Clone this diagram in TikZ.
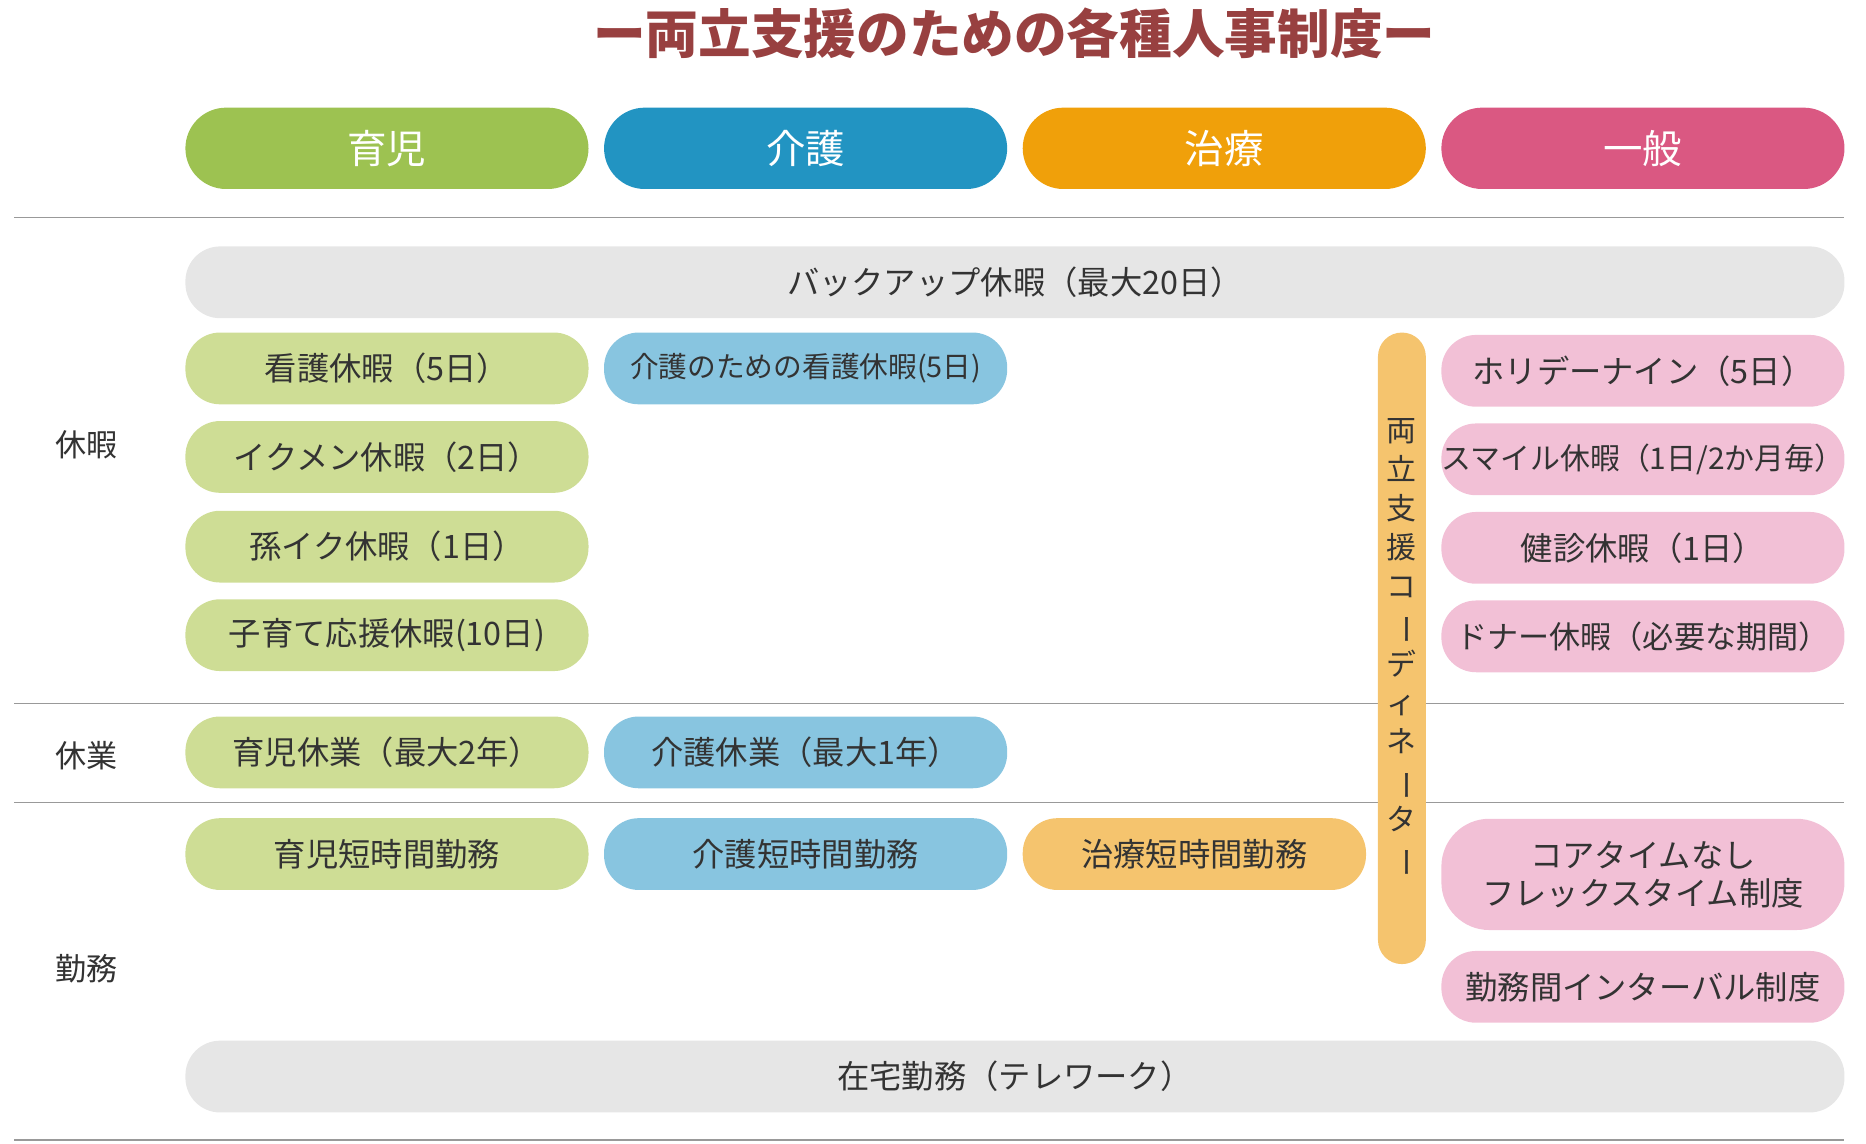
\documentclass[tikz,border=0pt]{standalone}
\usepackage{fontspec}
\setmainfont{Noto Sans CJK JP}
\definecolor{gA}{HTML}{9DC251}\definecolor{bA}{HTML}{2294C2}
\definecolor{oA}{HTML}{F0A00A}\definecolor{pA}{HTML}{DA5882}
\definecolor{gB}{HTML}{CEDD95}\definecolor{bB}{HTML}{88C5E0}
\definecolor{oB}{HTML}{F5C46E}\definecolor{pB}{HTML}{F2C0D6}
\definecolor{grB}{HTML}{E6E6E6}\definecolor{tt}{HTML}{984040}
\definecolor{tx}{HTML}{333333}
\tikzset{pill/.style={rounded corners=29pt,inner sep=0pt,text=tx,font=\fontsize{27}{32}\selectfont,align=center},
 head/.style={pill,text=white,font=\fontsize{33}{38}\selectfont,rounded corners=34pt},
 rule/.style={draw=gray!80,line width=1.2pt},
 lab/.style={text=tx,font=\fontsize{26}{30}\selectfont}}
\newcommand{\pl}[7]{\fill[#6,rounded corners=#7] (#1,#2) rectangle (#3,#4); \node[pill] (#5) at ({(#1+#3)/2},{(#2+#4)/2}) {};}
\begin{document}
\begin{tikzpicture}[x=1pt,y=-1pt]
\useasboundingbox (0,0) rectangle (1560,956);
\node[text=tt,font=\bfseries\fontsize{44}{50}\selectfont] (title) at (848,28) {ー両立支援のための各種人事制度ー};
% headers
\foreach \x/\c/\t/\n in {155/gA/育児/h1,505/bA/介護/h2,855/oA/治療/h3,1205/pA/一般/h4}{
 \node[head,fill=\c,minimum width=337pt,minimum height=68pt] (\n) at (\x+168.5,124) {\t};}
\draw[rule] (12,182) -- (1542,182);
\draw[rule] (12,588) -- (1542,588);
\draw[rule] (12,671) -- (1542,671);
\draw[rule] (12,953) -- (1542,953);
\node[lab] (l1) at (72,372) {休暇};
\node[lab] (l2) at (72,632) {休業};
\node[lab] (l3) at (72,810) {勤務};
\tikzset{w/.style={minimum width=337pt,minimum height=60pt}}
\node[pill,fill=grB,minimum width=1387pt,minimum height=60pt] (bk) at (848.5,236) {バックアップ休暇（最大20日）};
\node[pill,fill=grB,minimum width=1387pt,minimum height=60pt] (tw) at (848.5,900) {在宅勤務（テレワーク）};
\node[pill,w,fill=gB] (g1) at (323.5,308) {看護休暇（5日）};
\node[pill,w,fill=gB] (g2) at (323.5,382) {イクメン休暇（2日）};
\node[pill,w,fill=gB] (g3) at (323.5,457) {孫イク休暇（1日）};
\node[pill,w,fill=gB] (g4) at (323.5,531) {子育て応援休暇(10日)};
\node[pill,w,fill=gB] (g5) at (323.5,629) {育児休業（最大2年）};
\node[pill,w,fill=gB] (g6) at (323.5,714) {育児短時間勤務};
\node[pill,w,fill=bB,font=\fontsize{24}{28}\selectfont] (b1) at (673.5,308) {介護のための看護休暇(5日)};
\node[pill,w,fill=bB] (b2) at (673.5,629) {介護休業（最大1年）};
\node[pill,w,fill=bB] (b3) at (673.5,714) {介護短時間勤務};
\node[pill,fill=oB,minimum width=287pt,minimum height=60pt] (o1) at (998.5,714) {治療短時間勤務};
\node[pill,w,fill=pB] (p1) at (1373.5,310) {ホリデーナイン（5日）};
\node[pill,w,fill=pB,font=\fontsize{25}{30}\selectfont] (p2) at (1373.5,384) {スマイル休暇（1日/2か月毎）};
\node[pill,w,fill=pB] (p3) at (1373.5,458) {健診休暇（1日）};
\node[pill,w,fill=pB,font=\fontsize{26}{30}\selectfont] (p4) at (1373.5,532) {ドナー休暇（必要な期間）};
\node[pill,fill=pB,minimum width=337pt,minimum height=93pt,rounded corners=40pt] (p5) at (1373.5,731) {コアタイムなし\\フレックスタイム制度};
\node[pill,w,fill=pB] (p6) at (1373.5,825) {勤務間インターバル制度};
\node[pill,fill=oB,minimum width=40pt,minimum height=528pt,rounded corners=20pt,font=\fontsize{25}{32.5}\selectfont] (co) at (1172,542)
 {両\\立\\支\\援\\コ\\\rotatebox[origin=c]{-90}{ー}\\デ\\ィ\\ネ\\\rotatebox[origin=c]{-90}{ー}\\タ\\\rotatebox[origin=c]{-90}{ー}};
\end{tikzpicture}
\end{document}
